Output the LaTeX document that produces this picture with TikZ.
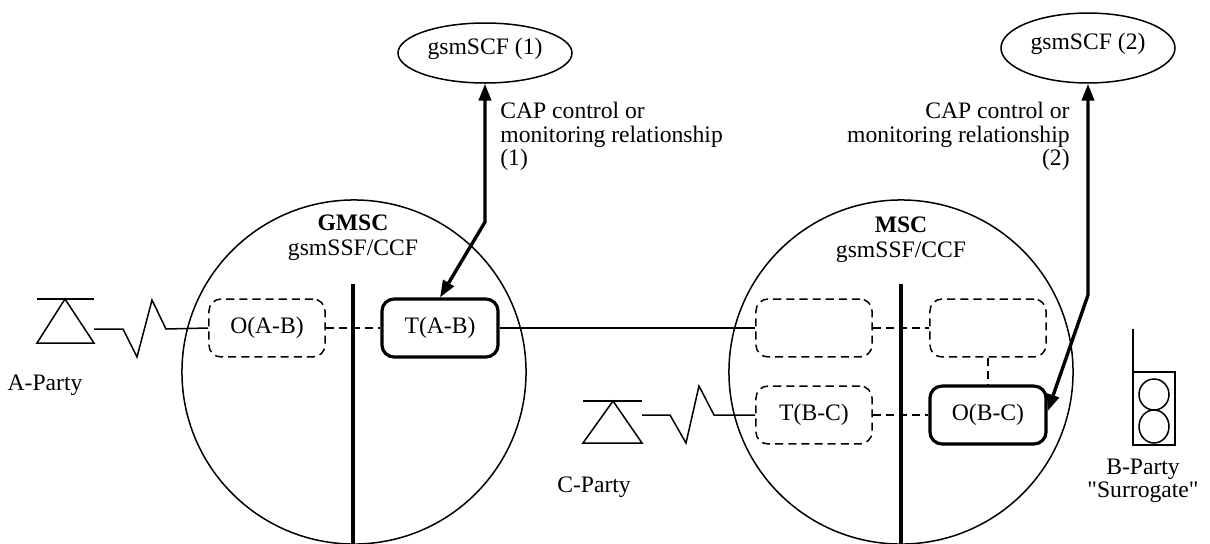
\documentclass[tikz,border=0pt]{standalone}
\usepackage{fontspec}
\setmainfont{Liberation Serif}
\usetikzlibrary{shapes.geometric,arrows.meta}
\tikzset{
  thinl/.style={line width=0.8pt},
  fbox/.style={rounded corners=6.4pt, minimum width=61.9pt, minimum height=30.9pt, inner sep=0pt},
  dbox/.style={fbox, draw, line width=0.8pt, dash pattern=on 4.3pt off 2.7pt},
  sbox/.style={fbox, draw, line width=1.7pt},
  dline/.style={line width=0.8pt, dash pattern=on 4.3pt off 2.7pt},
  divider/.style={line width=1.7pt},
  capar/.style={line width=1.8pt, {Triangle[length=9pt,width=6.5pt]}-{Triangle[length=9pt,width=6.5pt]}},
  scf/.style={ellipse, draw, line width=0.8pt, minimum width=92.8pt, inner sep=0pt, text height=8pt, text depth=6.4pt},
  lbl/.style={inner sep=0pt},
  msc/.style={circle, draw, line width=0.8pt, minimum size=183.5pt, inner sep=0pt},
}
\begin{document}
\begin{tikzpicture}[x=0.5333pt, y=-0.5333pt, font=\fontsize{12.6}{12.4}\selectfont]
\useasboundingbox (0,0) rectangle (1210,544);

% exchanges
\node[msc] (gmsc) at (354,372) {};
\node[msc] (mscc) at (901,372) {};
\node[lbl, align=center] (gmsclbl) at (353,238) {\textbf{GMSC}\\[1pt]gsmSSF/CCF};
\node[lbl, align=center] (msclbl) at (901,240) {\textbf{MSC}\\[1pt]gsmSSF/CCF};
\draw[divider] (353,284) -- (353,544);
\draw[divider] (901,284) -- (901,544);

% boxes
\node[dbox] (OAB) at (267,328) {O(A-B)};
\node[sbox] (TAB) at (440,328) {T(A-B)};
\node[dbox] (X1) at (814,328) {};
\node[dbox] (X2) at (988,328) {};
\node[dbox] (TBC) at (814,415) {T(B-C)};
\node[sbox] (OBC) at (988,415) {O(B-C)};

\draw[dline] (OAB.east) -- (TAB.west);
\draw[thinl] (TAB.east) -- (X1.west);
\draw[dline] (X1.east) -- (X2.west);
\draw[dline] (TBC.east) -- (OBC.west);
\draw[dline] (X2.south) -- (OBC.north);

% gsmSCF
\node[scf, minimum height=32pt] (scf1) at (485,53) {gsmSCF (1)};
\node[scf, minimum height=37.3pt] (scf2) at (1088,48) {gsmSCF (2)};
\coordinate (k1) at (485,222);
\coordinate (k2) at (1088,295);
\draw[capar] (scf1.south) -- (k1) -- (TAB.north);
\draw[capar] (scf2.south) -- (k2) -- ([yshift=2pt]OBC.east);
\node[lbl, anchor=north west, align=left] (cap1) at (500,102) {CAP control or\\monitoring relationship\\(1)};
\node[lbl, anchor=north east, align=right] (cap2) at (1070,102) {CAP control or\\monitoring relationship\\(2)};

% A-Party
\draw[thinl] (37,299) -- (94,299);
\draw[thinl] (65,299) -- (37,343) -- (94,343) -- cycle;
\coordinate (aph) at (94,329);
\draw[thinl] (aph) -- (123,329) -- (137,357) -- (152,300) -- (166,329) -- (OAB.west);
\node[lbl] (alab) at (45,385) {A-Party};

% C-Party
\draw[thinl] (583,401) -- (642,401);
\draw[thinl] (613,401) -- (583,443) -- (642,443) -- cycle;
\coordinate (cph) at (642,415);
\draw[thinl] (cph) -- (670,415) -- (686,443) -- (699,386) -- (714,415) -- (TBC.west);
\node[lbl] (clab) at (594,487) {C-Party};

% B-Party
\draw[thinl] (1133,372) rectangle (1175,445);
\draw[thinl] (1133,329) -- (1133,372);
\draw[thinl] (1154,394.5) ellipse [x radius=15, y radius=15.5];
\draw[thinl] (1154,426.5) ellipse [x radius=15, y radius=16.5];
\node[lbl, align=center] (blab) at (1143,481) {B-Party\\\textquotedbl Surrogate\textquotedbl};
\end{tikzpicture}
\end{document}
